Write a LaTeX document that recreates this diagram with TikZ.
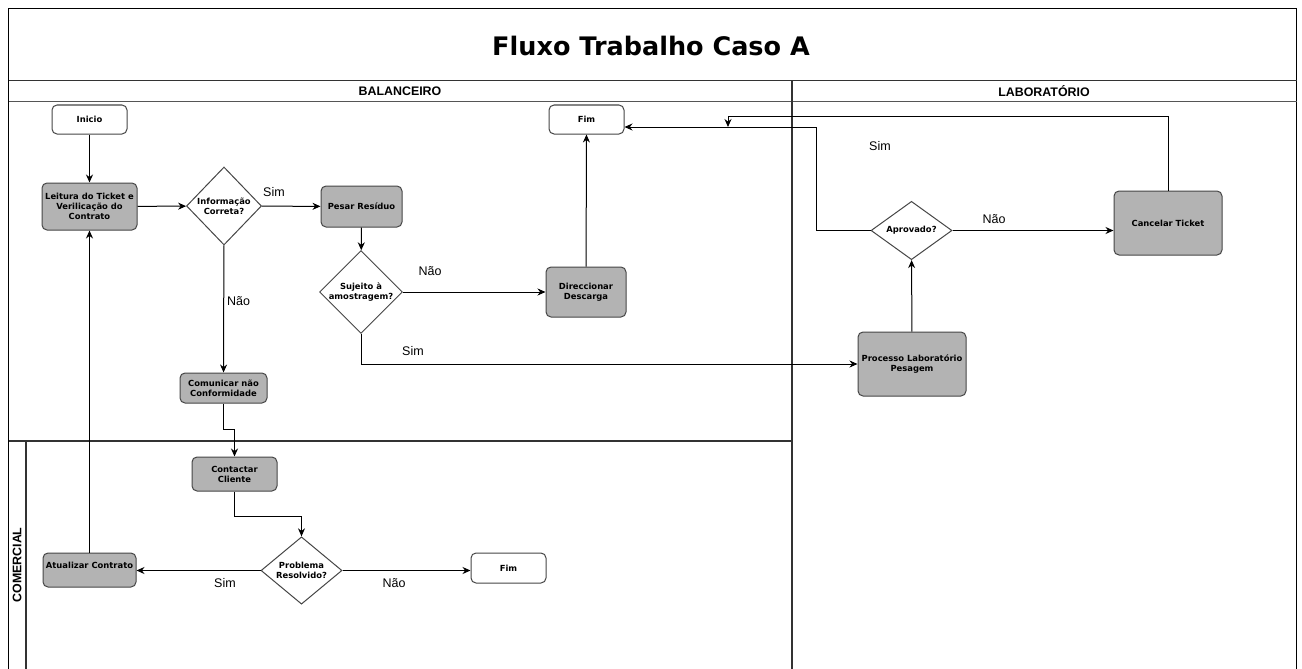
\documentclass[tikz,border=0pt]{standalone}
\usepackage{fontspec}
\usetikzlibrary{shapes.geometric,arrows.meta,positioning,calc}
\newfontfamily\vfont{DejaVu Sans}
\newfontfamily\afont{Liberation Sans}
\definecolor{boxgray}{RGB}{179,179,179}
\definecolor{edgegray}{RGB}{70,70,70}
\definecolor{lanegray}{RGB}{85,85,85}
\tikzset{
  boxtxt/.style={font=\vfont\bfseries\fontsize{8.4}{10}\selectfont, align=center, text=black},
  task/.style={boxtxt, draw=edgegray, fill=boxgray, rounded corners=5pt, line width=1pt, inner sep=1pt},
  term/.style={boxtxt, draw=edgegray, fill=white, rounded corners=5pt, line width=1pt, inner sep=1pt},
  choice/.style={boxtxt, diamond, draw=edgegray, fill=white, line width=1pt, inner sep=0pt},
  arr/.style={draw=black, line width=1pt, -{Stealth[length=8pt,width=7pt]}},
  lbl/.style={font=\afont\fontsize{12.5}{14}\selectfont, inner sep=0pt},
  lanehead/.style={font=\afont\bfseries\fontsize{12.4}{14}\selectfont, inner sep=0pt},
  frame/.style={draw=black, line width=1.6pt},
  lane/.style={draw=black!80, line width=1.2pt}
}
\begin{document}
\begin{tikzpicture}[x=1pt,y=-1pt]
\useasboundingbox (0,0) rectangle (1302,669);
\fill[white] (0,0) rectangle (1302,669);

% pool frame and lanes
\draw[frame] (8.5,669) -- (8.5,8.5) -- (1296.5,8.5) -- (1296.5,669);
\draw[lane] (8.5,80.5) -- (1296.5,80.5);
\draw[draw=lanegray, line width=1.6pt] (8.5,101.5) -- (1296.5,101.5);
\draw[lane] (792,80.5) -- (792,669);
\draw[lane] (8.5,441) -- (792,441);
\draw[lane] (26,441) -- (26,669);

\node[font=\vfont\bfseries\fontsize{25.5}{30}\selectfont] (title) at (651,46) {Fluxo Trabalho Caso A};
\node[lanehead] (hbal) at (400,91) {BALANCEIRO};
\node[lanehead] (hlab) at (1044,91) {LABORATÓRIO};
\node[lanehead, rotate=90] (hcom) at (17,565) {COMERCIAL};

% BALANCEIRO lane
\node[term, minimum width=75pt, minimum height=29pt] (inicio) at (89.5,119.5) {Inicio};
\node[task, minimum width=95pt, minimum height=47pt] (leitura) at (89.5,206.5) {Leitura do Ticket e\\Verilicação do\\Contrato};
\node[choice, minimum width=75pt, minimum height=78pt] (info) at (224,206) {Informação\\Correta?};
\node[task, minimum width=81pt, minimum height=41pt] (pesar) at (361.5,206.5) {Pesar Resíduo};
\node[choice, minimum width=82pt, minimum height=58pt] (sujeito) at (361,292) {Sujeito à\\amostragem?};
\node[task, minimum width=80pt, minimum height=50pt] (direc) at (586,292) {Direccionar\\Descarga};
\node[term, minimum width=75pt, minimum height=29pt] (fim1) at (586.5,119.5) {Fim};
\node[task, minimum width=87pt, minimum height=30pt] (comun) at (223.5,388) {Comunicar não\\Conformidade};

% COMERCIAL lane
\node[task, minimum width=85pt, minimum height=34pt] (contac) at (234.5,474) {Contactar\\Cliente};
\node[choice, minimum width=81pt, minimum height=57pt] (probl) at (301.5,570.5) {Problema\\Resolvido?};
\node[task, minimum width=93pt, minimum height=34pt, text depth=10pt] (atual) at (89.5,570) {Atualizar Contrato};
\node[term, minimum width=75pt, minimum height=30pt] (fim2) at (508.5,568) {Fim};

% LABORATÓRIO lane
\node[task, minimum width=108pt, minimum height=64pt] (proces) at (912,364) {Processo Laboratório\\Pesagem};
\node[choice, minimum width=81pt, minimum height=57pt] (aprov) at (911.5,230.5) {Aprovado?};
\node[task, minimum width=108pt, minimum height=64pt] (cancel) at (1168,223) {Cancelar Ticket};

% connectors
\draw[arr] (inicio) -- (leitura);
\draw[arr] (leitura) -- (info);
\draw[arr] (info) -- (pesar);
\draw[arr] (info) -- (comun);
\draw[arr] (pesar) -- (sujeito);
\draw[arr] (sujeito) -- (direc);
\draw[arr] (sujeito.south) |- (proces.west);
\draw[arr] (direc) -- (fim1);
\draw[arr] (comun.south) -- ++(0,26) -| (contac.north);
\draw[arr] (contac.south) -- ++(0,25) -| (probl.north);
\draw[arr] (probl.west) -- (atual.east |- probl.west);
\draw[arr] (probl.east) -- (fim2.west |- probl.east);
\draw[arr] (atual.north) -- (leitura.south);
\draw[arr] (proces) -- (aprov);
\draw[arr] (aprov.east) -- (cancel.west |- aprov.east);
\coordinate (simturn) at (816,230.5);
\draw[arr] (aprov.west) -- (simturn) |- ([yshift=-7.5pt]fim1.east);
\coordinate (cancdrop) at (728,127);
\draw[arr] (cancel.north) |- (728,116) -- (cancdrop);

% connector labels
\node[lbl] (l1) at (274,192) {Sim};
\node[lbl, anchor=west] (l2) at (227,301) {Não};
\node[lbl] (l3) at (430,271) {Não};
\node[lbl] (l4) at (413,351) {Sim};
\node[lbl] (l5) at (880,146) {Sim};
\node[lbl] (l6) at (994,219) {Não};
\node[lbl] (l7) at (225,583) {Sim};
\node[lbl] (l8) at (394,583) {Não};
\end{tikzpicture}
\end{document}
